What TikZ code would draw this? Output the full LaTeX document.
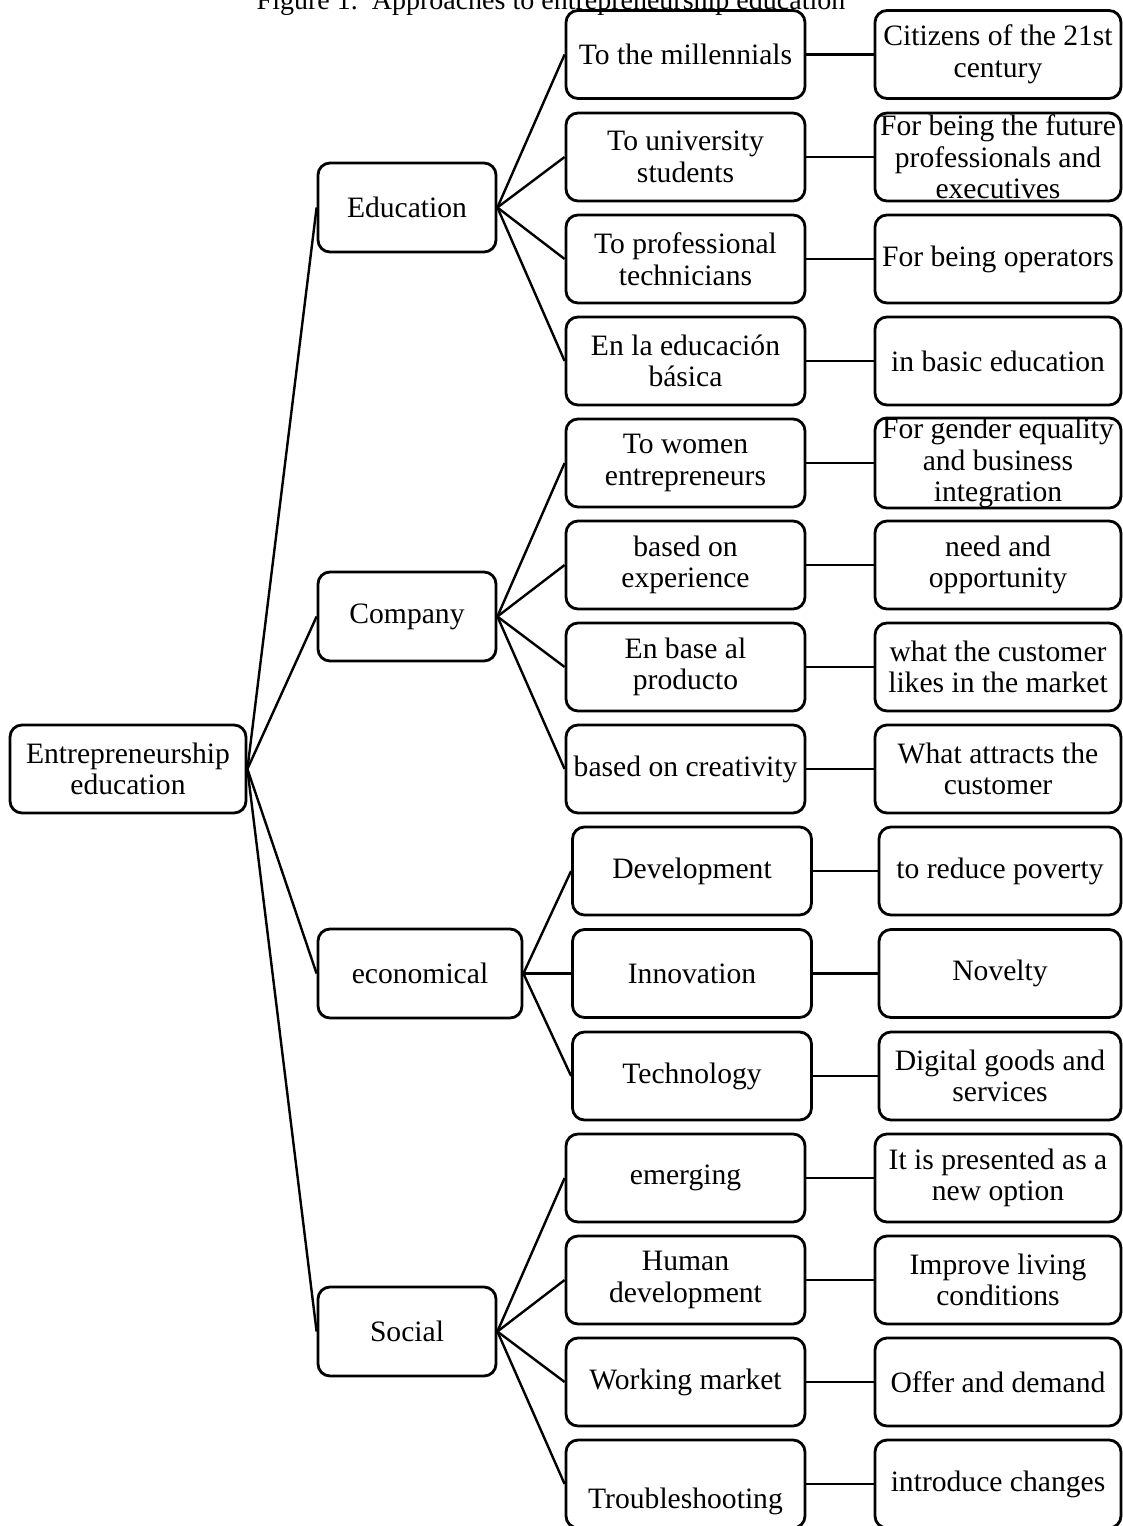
\documentclass[tikz,border=0pt]{standalone}
\usepackage{fontspec}
\setmainfont{Liberation Serif}
\begin{document}
\begin{tikzpicture}[x=0.5pt, y=-0.5pt,
	  box/.style={draw, line width=1.4pt, rounded corners=6pt, align=center, inner sep=0pt, font=\fontsize{14.8}{15.8}\selectfont},
	  root/.style={box, minimum width=118pt, minimum height=44pt},
	  branch/.style={box, minimum width=89pt, minimum height=44.5pt},
	  topic/.style={box, minimum width=119.5pt, minimum height=44pt},
	  aim/.style={box, minimum width=123pt, minimum height=44pt},
	  link/.style={line width=1.2pt}]
	  \useasboundingbox (0,0) rectangle (1123,1526);

	  \node [anchor=base, font=\fontsize{14}{16}\selectfont] (title) at (551,9) {Figure 1.\ \ Approaches to entrepreneurship education};

	  \node [root] (ee) at (128,769) {Entrepreneurship\\education};

	  \node [branch] (edu) at (407,207.5) {Education};
	  \node [branch] (com) at (407,616.5) {Company};
	  \node [branch, minimum width=102pt] (eco) at (420,973.5) {economical};
	  \node [branch] (soc) at (407,1331.5) {Social};

	  \node [topic] (t1) at (685.5,54.5) {To the millennials};
	  \node [topic] (t2) at (685.5,157) {To university\\students};
	  \node [topic] (t3) at (685.5,259) {To professional\\technicians};
	  \node [topic] (t4) at (685.5,361) {En la educación\\básica};
	  \node [topic] (t5) at (685.5,463) {To women\\entrepreneurs};
	  \node [topic] (t6) at (685.5,565) {based on\\experience};
	  \node [topic] (t7) at (685.5,667) {En base al\\producto};
	  \node [topic] (t8) at (685.5,769) {based on creativity};
	  \node [topic] (t9) at (692,871) {Development};
	  \node [topic] (t10) at (692,973.5) {Innovation};
	  \node [topic] (t11) at (692,1076) {Technology};
	  \node [topic] (t12) at (685.5,1178) {emerging};
	  \node [topic] (t13) at (685.5,1280) {Human\\development};
	  \node [topic] (t14) at (685.5,1382) {Working market};
	  \node [topic] (t15) at (685.5,1484) {\mbox{}\\[12pt]Troubleshooting};

	  \node [aim] (a1) at (998,54.5) {Citizens of the 21st\\century};
	  \node [aim] (a2) at (998,157) {For being the future\\professionals and\\executives};
	  \node [aim] (a3) at (998,259) {For being operators};
	  \node [aim] (a4) at (998,361) {in basic education};
	  \node [aim] (a5) at (998,463) {For gender equality\\and business\\integration};
	  \node [aim] (a6) at (998,565) {need and\\opportunity};
	  \node [aim] (a7) at (998,667) {what the customer\\likes in the market};
	  \node [aim] (a8) at (998,769) {What attracts the\\customer};
	  \node [aim, minimum width=121pt] (a9) at (1000,871) {to reduce poverty};
	  \node [aim, minimum width=121pt] (a10) at (1000,973.5) {Novelty};
	  \node [aim, minimum width=121pt] (a11) at (1000,1076) {Digital goods and\\services};
	  \node [aim] (a12) at (998,1178) {It is presented as a\\new option};
	  \node [aim] (a13) at (998,1280) {Improve living\\conditions};
	  \node [aim] (a14) at (998,1382) {Offer and demand};
	  \node [aim] (a15) at (998,1484) {introduce changes};

	  \foreach \b in {edu,com,eco,soc}
	    \draw [link] (ee.east) -- (\b.west);

	  \foreach \t in {1,2,3,4}
	    \draw [link] (edu.east) -- (t\t.west);
	  \foreach \t in {5,6,7,8}
	    \draw [link] (com.east) -- (t\t.west);
	  \foreach \t in {9,10,11}
	    \draw [link] (eco.east) -- (t\t.west);
	  \foreach \t in {12,13,14,15}
	    \draw [link] (soc.east) -- (t\t.west);

	  \foreach \t in {1,...,15}
	    \draw [link] (t\t.east) -- (a\t.west);

\end{tikzpicture}
\end{document}
